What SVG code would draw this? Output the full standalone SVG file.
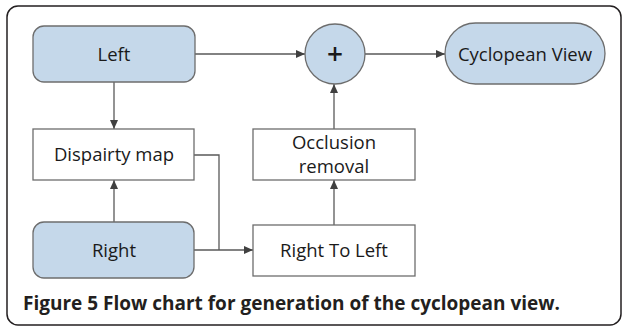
<svg xmlns="http://www.w3.org/2000/svg" width="625" height="330" viewBox="0 0 625 330">
<style>
.term{fill:#c5d8ea;stroke:#6d6d6d;stroke-width:1.3}
.box{fill:#ffffff;stroke:#6d6d6d;stroke-width:1.3}
.lbl{font-family:"Open Sans","Liberation Sans",sans-serif;font-size:18.5px;fill:#1a1a1a;text-anchor:middle}
.conn{fill:none;stroke:#595959;stroke-width:1.3}
.cap{font-family:"Open Sans","Liberation Sans",sans-serif;font-size:19px;font-weight:700;fill:#231f20}
</style>
<defs>
<marker id="ah" markerWidth="10" markerHeight="10" refX="9" refY="5" orient="auto" markerUnits="userSpaceOnUse">
<path d="M0,1 L9,5 L0,9 Z" fill="#404040"/>
</marker>
</defs>
<rect x="7" y="6" width="614" height="319" rx="11" fill="#ffffff" stroke="#231f20" stroke-width="1.5"/>
<g id="connectors">
<path class="conn" d="M114,82 V129" marker-end="url(#ah)"/>
<path class="conn" d="M114,222 V180" marker-end="url(#ah)"/>
<path class="conn" d="M195,54 H305" marker-end="url(#ah)"/>
<path class="conn" d="M365,54 H445" marker-end="url(#ah)"/>
<path class="conn" d="M334,129 V84" marker-end="url(#ah)"/>
<path class="conn" d="M334,225 V180" marker-end="url(#ah)"/>
<path class="conn" d="M194,250 H253" marker-end="url(#ah)"/>
<path class="conn" d="M194,155 H219 V250"/>
</g>
<g id="left">
<rect class="term" x="33" y="26" width="162" height="56" rx="11"/>
<text class="lbl" x="114" y="61">Left</text>
</g>
<g id="disparity">
<rect class="box" x="33" y="129" width="161" height="51"/>
<text class="lbl" x="114" y="161">Dispairty map</text>
</g>
<g id="right">
<rect class="term" x="33" y="222" width="161" height="56" rx="11"/>
<text class="lbl" x="114" y="257">Right</text>
</g>
<g id="plus">
<circle class="term" cx="335" cy="54" r="30"/>
<text class="lbl" x="335" y="64" style="font-size:28px;font-weight:600">+</text>
</g>
<g id="cyclopean">
<rect class="term" x="445" y="23" width="160" height="61" rx="30.5"/>
<text class="lbl" x="525" y="61">Cyclopean View</text>
</g>
<g id="occlusion">
<rect class="box" x="253" y="129" width="162" height="51"/>
<text class="lbl" x="334" y="149">Occlusion</text>
<text class="lbl" x="334" y="173">removal</text>
</g>
<g id="righttoleft">
<rect class="box" x="253" y="225" width="162" height="51"/>
<text class="lbl" x="334" y="257">Right To Left</text>
</g>
<text class="cap" x="23" y="310">Figure 5 Flow chart for generation of the cyclopean view.</text>
</svg>
